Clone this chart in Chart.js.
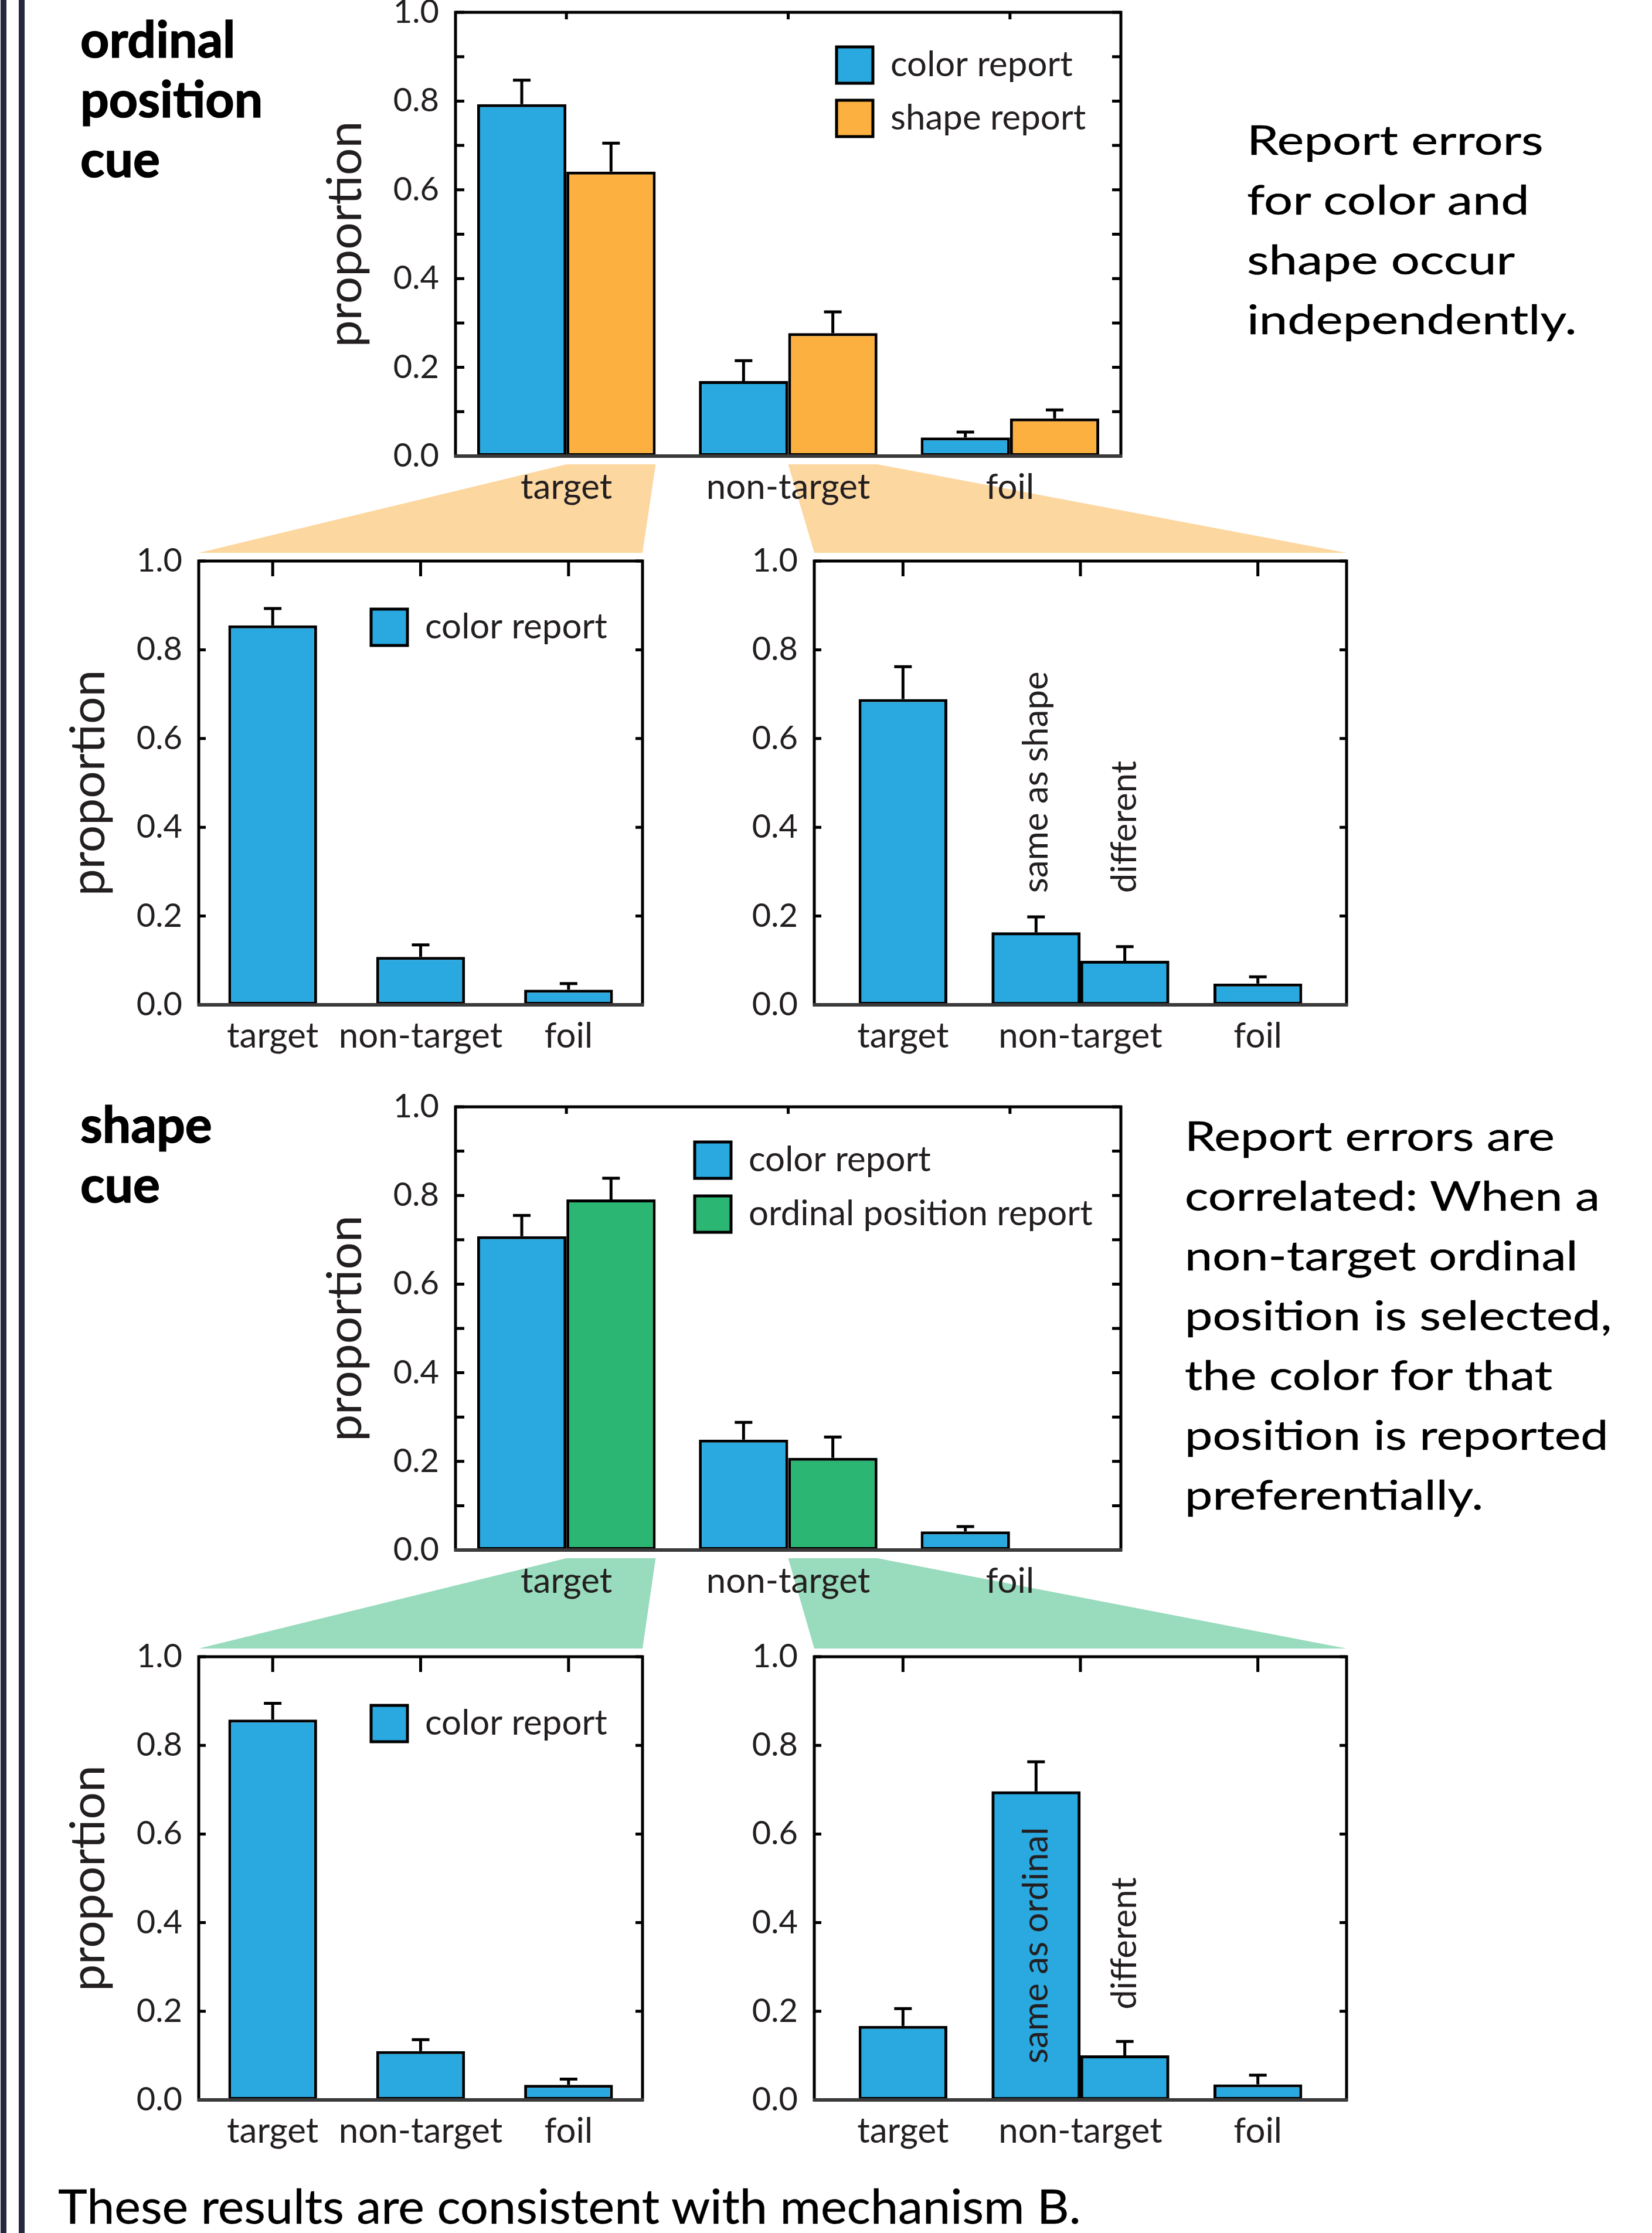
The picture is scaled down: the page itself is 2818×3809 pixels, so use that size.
<!doctype html>
<html>
<head>
<meta charset="utf-8">
<title>Report errors by cue</title>
<script src="https://cdn.jsdelivr.net/npm/chart.js@4.4.1/dist/chart.umd.min.js"></script>
<style>
  html, body { margin: 0; padding: 0; background: #fff; }
  body { width: 2818px; height: 3809px; position: relative; overflow: hidden; font-family: Lato, sans-serif; color: #000; }
  canvas { position: absolute; }
  .rule { position: absolute; top: 0; width: 10px; height: 3809px; background: #262840; }
  .txt { position: absolute; white-space: nowrap; }
  .cue { left: 137px; font-weight: 700; font-size: 86px; line-height: 102px; -webkit-text-stroke: 1.5px #000; }
  .note { font-size: 70px; line-height: 102px; transform-origin: 0 0; -webkit-text-stroke: 0.4px #000; }
</style>
</head>
<body>
<div class="rule" style="left:1px"></div>
<div class="rule" style="left:32px"></div>
<canvas id="links" width="2818" height="3809" style="left:0;top:0"></canvas>
<canvas id="chartA"></canvas>
<canvas id="chartB"></canvas>
<canvas id="chartC"></canvas>
<canvas id="chartD"></canvas>
<canvas id="chartE"></canvas>
<canvas id="chartF"></canvas>

<div class="txt cue" style="top:14px">ordinal<br>position<br>cue</div>
<div class="txt cue" style="top:1865px">shape<br>cue</div>
<div class="txt note" style="left:2127px;top:186px;transform:scaleX(1.24)">Report errors<br>for color and<br>shape occur<br>independently.</div>
<div class="txt note" style="left:2021px;top:1885px;transform:scaleX(1.21)">Report errors are<br>correlated: When a<br>non-target ordinal<br>position is selected,<br>the color for that<br>position is reported<br>preferentially.</div>
<div class="txt note" style="left:99px;top:3710px;font-size:82px;transform:scaleX(1.03)">These results are consistent with mechanism B.</div>

<script>
const categories = ['target', 'non-target', 'foil'];

// ordinal position cue: color and shape reports
const ordColor = [0.793, 0.169, 0.042];
const ordColorSem = [0.054, 0.046, 0.012];
const ordShape = [0.641, 0.277, 0.085];
const ordShapeSem = [0.064, 0.048, 0.019];
// ordinal cue, color report split by shape report (left: shape target, right: shape non-target)
const ordColorLeft = [0.855, 0.108, 0.034];
const ordColorLeftSem = [0.038, 0.027, 0.014];
const ordRightSingle = [0.689, null, 0.048];
const ordRightSingleSem = [0.073, null, 0.015];
const ordRightSame = [null, 0.163, null];
const ordRightSameSem = [null, 0.035, null];
const ordRightDiff = [null, 0.099, null];
const ordRightDiffSem = [null, 0.032, null];

// shape cue: color and ordinal position reports
const shpColor = [0.708, 0.249, 0.042];
const shpColorSem = [0.047, 0.039, 0.011];
const shpOrdinal = [0.791, 0.208, 0];
const shpOrdinalSem = [0.048, 0.047, null];
// shape cue, color report split by ordinal report
const shpColorLeft = [0.858, 0.110, 0.034];
const shpColorLeftSem = [0.037, 0.026, 0.013];
const shpRightSingle = [0.167, null, 0.035];
const shpRightSingleSem = [0.039, null, 0.021];
const shpRightSame = [null, 0.696, null];
const shpRightSameSem = [null, 0.067, null];
const shpRightDiff = [null, 0.100, null];
const shpRightDiffSem = [null, 0.032, null];

const BLUE = '#29a9e0';
const ORANGE = '#fbb040';
const GREEN = '#2bb673';
const INK = '#231f20';
const FONT = 'Lato';

// margins around each plot area inside its canvas
// (top must exceed half a tick label plus the tick padding, or Chart.js pushes the plot down)
const PAD = {left: 260, top: 70, right: 40, bottom: 120};

const decor = {
  id: 'decor',
  afterDatasetsDraw(chart, args, o) {
    const {ctx, chartArea: a, scales: {x, y}} = chart;
    ctx.save();
    ctx.lineCap = 'butt';
    // error bars
    chart.data.datasets.forEach((ds, di) => {
      const meta = chart.getDatasetMeta(di);
      meta.data.forEach((bar, i) => {
        const v = ds.data[i];
        const e = ds.sem ? ds.sem[i] : null;
        if (v == null || !e) return;
        const top = y.getPixelForValue(v + e);
        ctx.strokeStyle = '#000';
        ctx.lineWidth = 5;
        ctx.beginPath();
        ctx.moveTo(bar.x, bar.y);
        ctx.lineTo(bar.x, top);
        ctx.moveTo(bar.x - 15, top);
        ctx.lineTo(bar.x + 15, top);
        ctx.stroke();
      });
    });
    // rotated notes on bars
    (o.notes || []).forEach(n => {
      const bar = chart.getDatasetMeta(n.dataset).data[n.index];
      ctx.save();
      ctx.translate(bar.x, y.getPixelForValue(n.at));
      ctx.rotate(-Math.PI / 2);
      ctx.font = '60px ' + FONT;
      ctx.fillStyle = INK;
      ctx.textAlign = 'left';
      ctx.textBaseline = 'middle';
      ctx.fillText(n.text, 0, 0);
      ctx.restore();
    });
    // frame and inward ticks
    ctx.strokeStyle = '#000';
    ctx.lineWidth = 5;
    ctx.strokeRect(a.left, a.top, a.right - a.left, a.bottom - a.top);
    ctx.beginPath();
    for (let v = 0; v <= 1.0001; v += o.step) {
      const py = y.getPixelForValue(v);
      ctx.moveTo(a.left, py); ctx.lineTo(a.left + o.sideTick, py);
      ctx.moveTo(a.right, py); ctx.lineTo(a.right - o.sideTick, py);
    }
    categories.forEach((c, i) => {
      const px = x.getPixelForTick(i);
      ctx.moveTo(px, a.top); ctx.lineTo(px, a.top + o.topTick);
    });
    ctx.stroke();
    ctx.strokeStyle = '#3a3a3a';
    ctx.lineWidth = 6;
    ctx.beginPath();
    ctx.moveTo(a.left - 2, a.bottom);
    ctx.lineTo(a.right + 2, a.bottom);
    ctx.stroke();
    // legend inside the plot
    if (o.legend) {
      const L = o.legend;
      let k = 0;
      chart.data.datasets.forEach(ds => {
        if (!ds.label) return;
        const bx = a.left + L.dx, by = a.top + L.dy + k * L.gap;
        ctx.fillStyle = ds.backgroundColor;
        ctx.fillRect(bx, by, 62, 62);
        ctx.lineWidth = 5;
        ctx.strokeStyle = '#000';
        ctx.strokeRect(bx, by, 62, 62);
        ctx.font = '60px ' + FONT;
        ctx.fillStyle = INK;
        ctx.textAlign = 'left';
        ctx.textBaseline = 'middle';
        ctx.fillText(ds.label, bx + 92, by + 31);
        k++;
      });
    }
    ctx.restore();
  }
};

function bar(label, data, sem, color, extra) {
  return Object.assign({
    label: label, data: data, sem: sem,
    backgroundColor: color, borderColor: '#000', borderWidth: 5, borderSkipped: false
  }, extra || {});
}

function makeChart(id, rect, datasets, o) {
  const cv = document.getElementById(id);
  const pos = {left: rect.l - PAD.left, top: rect.t - PAD.top};
  cv.width = rect.r - rect.l + PAD.left + PAD.right;
  cv.height = rect.b - rect.t + PAD.top + PAD.bottom;
  cv.style.left = pos.left + 'px';
  cv.style.top = pos.top + 'px';
  const chart = new Chart(cv.getContext('2d'), {
    type: 'bar',
    data: {labels: categories, datasets: datasets},
    options: {
      responsive: false,
      animation: false,
      layout: {padding: {left: 0, top: PAD.top, right: PAD.right, bottom: 0}},
      plugins: {
        legend: {display: false},
        tooltip: {enabled: false},
        decor: o
      },
      scales: {
        x: {
          grid: {display: false, drawTicks: false},
          border: {display: false},
          ticks: {color: INK, font: {family: FONT, size: 60}, padding: 18, autoSkip: false, maxRotation: 0},
          afterFit: s => { s.height = PAD.bottom; }
        },
        y: {
          min: 0, max: 1,
          grid: {display: false, drawTicks: false},
          border: {display: false},
          ticks: {stepSize: 0.2, color: INK, font: {family: FONT, size: 56}, padding: 28,
                  callback: v => Number(v).toFixed(1)},
          title: {display: !!o.title, text: 'proportion', color: INK,
                  font: {family: FONT, size: 82}, padding: {top: 23, bottom: 0}},
          afterFit: s => { s.width = PAD.left; }
        }
      }
    },
    plugins: [decor]
  });
  // if the plot still got pushed down, move the canvas up and grow it so the plot keeps its place
  const dt = Math.round(chart.chartArea.top - PAD.top);
  if (dt > 0) {
    pos.top -= dt;
    cv.style.top = pos.top + 'px';
    chart.resize(cv.width, cv.height + dt);
  }
  return {chart: chart, left: pos.left, top: pos.top};
}

function link(ctx, src, di, idx, dst, color) {
  const el = src.chart.getDatasetMeta(di).data[idx];
  const x0 = src.left + el.x - el.width / 2;
  const x1 = src.left + el.x + el.width / 2;
  const yTop = src.top + src.chart.chartArea.bottom + 14;
  const a = dst.chart.chartArea;
  const yBot = dst.top + a.top - 14;
  ctx.fillStyle = color;
  ctx.beginPath();
  ctx.moveTo(x0, yTop);
  ctx.lineTo(x1, yTop);
  ctx.lineTo(dst.left + a.right, yBot);
  ctx.lineTo(dst.left + a.left, yBot);
  ctx.closePath();
  ctx.fill();
}

function build() {
  const pairOpts = {categoryPercentage: 0.805, barPercentage: 1};
  const singleOpts = {categoryPercentage: 0.6, barPercentage: 1};
  const centerOpts = {grouped: false, barPercentage: 0.5, categoryPercentage: 1};
  const splitOpts = {categoryPercentage: 1, barPercentage: 1};

  const A = makeChart('chartA', {l: 777, t: 21, r: 1912, b: 778}, [
    bar('color report', ordColor, ordColorSem, BLUE, pairOpts),
    bar('shape report', ordShape, ordShapeSem, ORANGE, pairOpts)
  ], {step: 0.1, sideTick: 15, topTick: 12, title: true, legend: {dx: 650, dy: 59, gap: 91}});

  const B = makeChart('chartB', {l: 339, t: 957, r: 1096, b: 1714}, [
    bar('color report', ordColorLeft, ordColorLeftSem, BLUE, singleOpts)
  ], {step: 0.2, sideTick: 12, topTick: 26, title: true, legend: {dx: 294, dy: 82, gap: 91}});

  const C = makeChart('chartC', {l: 1389, t: 957, r: 2297, b: 1714}, [
    bar(null, ordRightSingle, ordRightSingleSem, BLUE, centerOpts),
    bar(null, ordRightSame, ordRightSameSem, BLUE, splitOpts),
    bar(null, ordRightDiff, ordRightDiffSem, BLUE, splitOpts)
  ], {step: 0.2, sideTick: 12, topTick: 26, title: false,
      notes: [{dataset: 1, index: 1, text: 'same as shape', at: 0.252},
              {dataset: 2, index: 1, text: 'different', at: 0.252}]});

  const D = makeChart('chartD', {l: 777, t: 1888, r: 1912, b: 2644}, [
    bar('color report', shpColor, shpColorSem, BLUE, pairOpts),
    bar('ordinal position report', shpOrdinal, shpOrdinalSem, GREEN, pairOpts)
  ], {step: 0.1, sideTick: 15, topTick: 12, title: true, legend: {dx: 408, dy: 60, gap: 92}});

  const E = makeChart('chartE', {l: 339, t: 2826, r: 1096, b: 3582}, [
    bar('color report', shpColorLeft, shpColorLeftSem, BLUE, singleOpts)
  ], {step: 0.2, sideTick: 12, topTick: 26, title: true, legend: {dx: 294, dy: 83, gap: 91}});

  const F = makeChart('chartF', {l: 1389, t: 2826, r: 2297, b: 3582}, [
    bar(null, shpRightSingle, shpRightSingleSem, BLUE, centerOpts),
    bar(null, shpRightSame, shpRightSameSem, BLUE, splitOpts),
    bar(null, shpRightDiff, shpRightDiffSem, BLUE, splitOpts)
  ], {step: 0.2, sideTick: 12, topTick: 26, title: false,
      notes: [{dataset: 1, index: 1, text: 'same as ordinal', at: 0.082},
              {dataset: 2, index: 1, text: 'different', at: 0.204}]});

  const lc = document.getElementById('links').getContext('2d');
  link(lc, A, 1, 0, B, '#fdd7a0');
  link(lc, A, 1, 1, C, '#fdd7a0');
  link(lc, D, 1, 0, E, '#98dbbd');
  link(lc, D, 1, 1, F, '#98dbbd');
}

Promise.all([
  document.fonts.load('60px Lato'),
  document.fonts.load('bold 86px Lato')
]).then(build, build);
</script>
</body>
</html>
